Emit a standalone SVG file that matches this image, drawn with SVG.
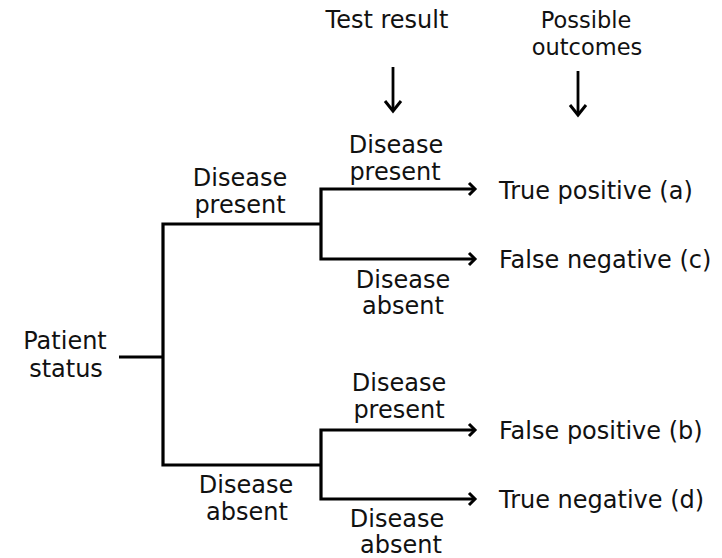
<svg xmlns="http://www.w3.org/2000/svg" width="722" height="558" viewBox="0 0 722 558">
<defs>
<style>
text{font-family:"DejaVu Sans","Verdana",sans-serif;font-size:24px;fill:#111}
.c{text-anchor:middle}
.ln{fill:none;stroke:#000;stroke-width:3.2;stroke-linejoin:miter}
.ar{fill:none;stroke:#000;stroke-width:2.8}
.hd{fill:none;stroke:#000;stroke-width:3}
</style>
</defs>
<rect width="722" height="558" fill="#fff"/>
<g id="header-test">
<text class="c" x="387" y="28">Test result</text>
<path class="ar" d="M393,67 V111"/>
<path class="hd" d="M385,101 L393,111 L401,101"/>
</g>
<g id="header-outcomes">
<text class="c" x="586" y="28" style="font-size:22.5px">Possible</text>
<text class="c" x="587" y="55" style="font-size:22.5px">outcomes</text>
<path class="ar" d="M578,71 V115"/>
<path class="hd" d="M570,105 L578,115 L586,105"/>
</g>
<g id="patient-status">
<text class="c" x="65" y="349">Patient</text>
<text class="c" x="66" y="377">status</text>
</g>
<g id="label-present-1">
<text class="c" x="240" y="186">Disease</text>
<text class="c" x="240" y="213">present</text>
</g>
<g id="label-absent-1">
<text class="c" x="246" y="493">Disease</text>
<text class="c" x="247" y="520">absent</text>
</g>
<g id="label-present-2">
<text class="c" x="396" y="153">Disease</text>
<text class="c" x="395" y="180">present</text>
</g>
<g id="label-absent-2">
<text class="c" x="403" y="288">Disease</text>
<text class="c" x="403" y="314">absent</text>
</g>
<g id="label-present-3">
<text class="c" x="399" y="391">Disease</text>
<text class="c" x="399" y="418">present</text>
</g>
<g id="label-absent-3">
<text class="c" x="397" y="527">Disease</text>
<text class="c" x="401" y="553">absent</text>
</g>
<g id="outcome-a"><text x="499" y="199">True positive (a)</text></g>
<g id="outcome-c"><text x="499" y="268">False negative (c)</text></g>
<g id="outcome-b"><text x="499" y="439">False positive (b)</text></g>
<g id="outcome-d"><text x="499" y="508">True negative (d)</text></g>
<g id="connectors">
<path class="ln" d="M119,357 H163"/>
<path class="ln" d="M321,224 H163 V465 H321"/>
<path class="ln" d="M474,189 H321 V259 H474"/>
<path class="ln" d="M474,430 H321 V499 H474"/>
<path class="hd" d="M469,183 L475,189 L469,195 M469,253 L475,259 L469,265 M469,424 L475,430 L469,436 M469,493 L475,499 L469,505"/>
</g>
</svg>
